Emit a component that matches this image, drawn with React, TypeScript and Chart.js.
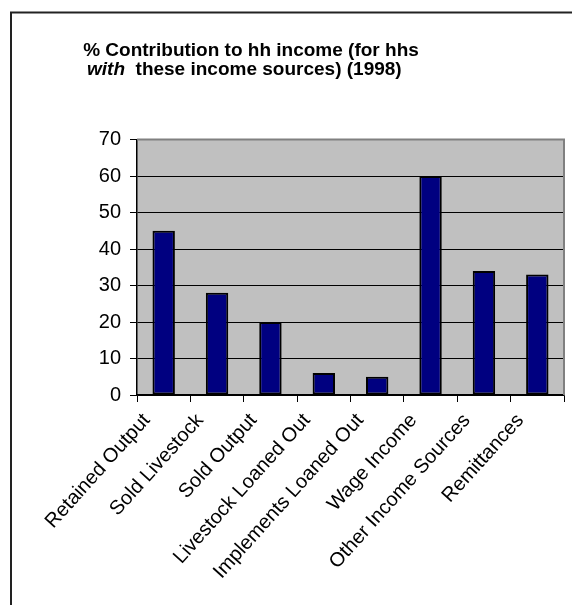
import React, { useEffect, useRef } from "react";
import { Chart, registerables } from "chart.js";

Chart.register(...registerables);

const categories = [
  "Retained Output",
  "Sold Livestock",
  "Sold Output",
  "Livestock Loaned Out",
  "Implements Loaned Out",
  "Wage Income",
  "Other Income Sources",
  "Remittances",
];
const contribution = [45, 28, 20, 6, 5, 60, 34, 33];
const yMin = 0;
const yMax = 70;
const yStep = 10;
const titleLine1 = "% Contribution to hh income (for hhs";
const titleLine2Italic = "with";
const titleLine2Rest = "  these income sources) (1998)";

const FONT = "'Liberation Sans', Arial, sans-serif";

const decorPlugin = {
  id: "decor",
  beforeDraw(chart: any) {
    const { ctx, chartArea } = chart;
    ctx.save();
    ctx.fillStyle = "#ffffff";
    ctx.fillRect(0, 0, chart.width, chart.height);
    ctx.fillStyle = "#C0C0C0";
    ctx.fillRect(chartArea.left, chartArea.top, chartArea.right - chartArea.left, chartArea.bottom - chartArea.top);
    ctx.restore();
  },
  afterDraw(chart: any) {
    const { ctx, chartArea } = chart;
    ctx.save();
    // plot area grey border top/right
    ctx.strokeStyle = "#808080";
    ctx.lineWidth = 2;
    ctx.beginPath();
    ctx.moveTo(chartArea.left, chartArea.top);
    ctx.lineTo(chartArea.right, chartArea.top);
    ctx.lineTo(chartArea.right, chartArea.bottom);
    ctx.stroke();
    // outer frame
    ctx.strokeStyle = "#222222";
    ctx.lineWidth = 2;
    ctx.beginPath();
    ctx.moveTo(11, chart.height);
    ctx.lineTo(11, 12.5);
    ctx.lineTo(chart.width, 12.5);
    ctx.stroke();
    // title
    ctx.fillStyle = "#000000";
    ctx.textBaseline = "alphabetic";
    ctx.font = `bold 19px ${FONT}`;
    ctx.textAlign = "center";
    ctx.fillText(titleLine1, 251, 55.5);
    ctx.textAlign = "left";
    ctx.font = `italic bold 19px ${FONT}`;
    ctx.fillText(titleLine2Italic, 87, 74.5);
    const w = ctx.measureText(titleLine2Italic).width;
    ctx.font = `bold 19px ${FONT}`;
    ctx.fillText(titleLine2Rest, 87 + w, 74.5);
    ctx.restore();
  },
};

export default function App() {
  const ref = useRef<HTMLCanvasElement | null>(null);
  useEffect(() => {
    if (!ref.current) return;
    const chart = new Chart(ref.current, {
      type: "bar",
      data: {
        labels: categories,
        datasets: [
          {
            data: contribution,
            backgroundColor: "#000080",
            borderColor: "#000000",
            borderWidth: 2,
            borderSkipped: false,
            barPercentage: 0.42,
            categoryPercentage: 1,
          },
        ],
      },
      options: {
        responsive: false,
        animation: false,
        devicePixelRatio: 1,
        layout: { padding: { top: 139.5, right: 8, left: 0, bottom: 0 } },
        plugins: {
          legend: { display: false },
          title: { display: false },
          tooltip: { enabled: false },
        },
        scales: {
          x: {
            offset: true,
            grid: {
              offset: true,
              drawOnChartArea: false,
              drawTicks: true,
              tickLength: 7,
              color: "#000000",
              lineWidth: 1,
            },
            border: { display: true, color: "#000000", width: 1.5 },
            ticks: {
              color: "#000000",
              font: { family: FONT, size: 20 },
              maxRotation: 48,
              minRotation: 48,
              autoSkip: false,
              padding: 7,
              labelOffset: -17,
            },
            afterFit(scale: any) {
              scale.height = 210;
            },
          },
          y: {
            min: yMin,
            max: yMax,
            grid: {
              color: "#000000",
              lineWidth: 1,
              tickLength: 7,
              drawTicks: true,
            },
            border: { display: true, color: "#000000", width: 1.5 },
            ticks: {
              stepSize: yStep,
              color: "#000000",
              font: { family: FONT, size: 20 },
              padding: 9,
            },
            afterFit(scale: any) {
              scale.width = 137;
            },
          },
        },
      },
      plugins: [decorPlugin],
    });
    return () => chart.destroy();
  }, []);
  return (
    <div style={{ position: "fixed", left: 0, top: 0, width: 572, height: 605, background: "#fff" }}>
      <canvas ref={ref} width={572} height={605} style={{ display: "block", width: 572, height: 605 }} />
    </div>
  );
}
